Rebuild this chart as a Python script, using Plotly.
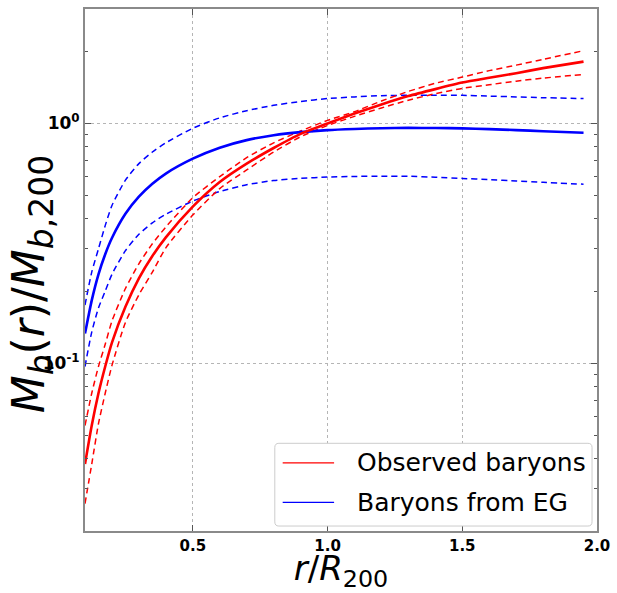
import plotly.graph_objects as go

# radius in units of R200
r = [0.1, 0.125, 0.15, 0.175, 0.2, 0.25, 0.3, 0.35, 0.4, 0.5, 0.6, 0.7,
     0.8, 0.9, 1.0, 1.1, 1.2, 1.3, 1.4, 1.5, 1.6, 1.7, 1.8, 1.95]

# Observed baryons (red)
obs_mid = [0.038, 0.055, 0.075, 0.097, 0.122, 0.172, 0.226, 0.28, 0.335, 0.45, 0.57, 0.68,
           0.79, 0.905, 1.0, 1.10, 1.20, 1.30, 1.39, 1.48, 1.55, 1.62, 1.70, 1.81]
obs_hi = [0.055, 0.075, 0.097, 0.12, 0.15, 0.205, 0.26, 0.315, 0.37, 0.49, 0.60, 0.72,
          0.83, 0.93, 1.03, 1.12, 1.24, 1.36, 1.47, 1.56, 1.66, 1.75, 1.85, 2.01]
obs_lo = [0.026, 0.038, 0.056, 0.075, 0.098, 0.148, 0.193, 0.24, 0.303, 0.415, 0.535, 0.64,
          0.76, 0.88, 0.98, 1.07, 1.16, 1.25, 1.33, 1.40, 1.45, 1.50, 1.545, 1.60]

# Baryons from Emergent Gravity (blue)
eg_mid = [0.133, 0.183, 0.235, 0.285, 0.333, 0.42, 0.495, 0.56, 0.618, 0.713, 0.792, 0.852,
          0.893, 0.92, 0.938, 0.948, 0.955, 0.958, 0.957, 0.954, 0.947, 0.938, 0.928, 0.915]
eg_hi = [0.175, 0.24, 0.30, 0.375, 0.455, 0.58, 0.68, 0.76, 0.83, 0.955, 1.055, 1.13,
         1.19, 1.235, 1.27, 1.29, 1.305, 1.31, 1.31, 1.31, 1.30, 1.29, 1.28, 1.27]
eg_lo = [0.097, 0.135, 0.17, 0.20, 0.235, 0.295, 0.345, 0.385, 0.418, 0.475, 0.52, 0.555,
         0.578, 0.59, 0.598, 0.601, 0.603, 0.602, 0.597, 0.59, 0.583, 0.576, 0.568, 0.558]

x_ticks = [0.5, 1.0, 1.5, 2.0]
x_ticktext = ["0.5", "1.0", "1.5", "2.0"]
y_ticks = [0.1, 1.0]
y_ticktext = ["10<sup>-1</sup>", "10<sup>0</sup>"]
y_minor = [0.03, 0.04, 0.05, 0.06, 0.07, 0.08, 0.09,
           0.2, 0.3, 0.4, 0.5, 0.6, 0.7, 0.8, 0.9, 2.0, 3.0]

legend_labels = ["Observed baryons", "Baryons from EG"]

RED = "#ff0000"
BLUE = "#0000ff"

fig = go.Figure()

def add(y, color, dash, width):
    fig.add_trace(go.Scatter(x=r, y=y, mode="lines", showlegend=False,
                             line=dict(color=color, dash=dash, width=width, shape="spline", smoothing=0.6),
                             hoverinfo="skip"))

dash_pat = "6px,4px"
add(eg_hi, BLUE, dash_pat, 1.5)
add(eg_lo, BLUE, dash_pat, 1.5)
add(obs_hi, RED, dash_pat, 1.5)
add(obs_lo, RED, dash_pat, 1.5)
add(eg_mid, BLUE, "solid", 2.6)
add(obs_mid, RED, "solid", 2.6)

axis_common = dict(
    showline=True, mirror="ticks", linecolor="#8a8a8a", linewidth=2,
    ticks="inside", ticklen=6, tickcolor="#555", tickwidth=1,
    showgrid=True, gridcolor="#b5b5b5", griddash="dot", gridwidth=1,
    zeroline=False,
)

fig.update_xaxes(
    range=[0.1, 2.0], tickvals=x_ticks, ticktext=x_ticktext,
    tickfont=dict(family="DejaVu Sans", size=15, color="black", weight="bold"),
    title=dict(text="<i>r</i>/<i>R</i><sub>200</sub>",
               font=dict(family="DejaVu Sans", size=34, color="black"), standoff=7),
    **axis_common,
)
fig.update_yaxes(
    type="log", range=[-1.699, 0.477], tickvals=y_ticks, ticktext=y_ticktext,
    tickfont=dict(family="DejaVu Sans", size=17, color="black", weight="bold"),
    minor=dict(tickvals=y_minor, ticks="inside", ticklen=3, tickcolor="#555", showgrid=False),
    **axis_common,
)

# y-axis title as a rotated annotation
sub = lambda t: "<sub><span style='font-size:33px'>" + t + "</span></sub>"
fig.add_annotation(xref="paper", yref="paper", x=-0.104, y=0.474,
                   xanchor="center", yanchor="middle", textangle=-90, showarrow=False,
                   text="<i>M</i>" + sub("<i>b</i>") + "(<i>r</i>)/<i>M</i>" + sub("<i>b</i>,200"),
                   font=dict(family="DejaVu Sans", size=44, color="black"))

# manual legend (box, line samples, labels) in paper coordinates
bx0, bx1, by0, by1 = 0.3707, 0.9903, 0.0095, 0.168
rx, ry = 0.008, 0.008
path = (f"M {bx0+rx},{by0} L {bx1-rx},{by0} Q {bx1},{by0} {bx1},{by0+ry} "
        f"L {bx1},{by1-ry} Q {bx1},{by1} {bx1-rx},{by1} L {bx0+rx},{by1} "
        f"Q {bx0},{by1} {bx0},{by1-ry} L {bx0},{by0+ry} Q {bx0},{by0} {bx0+rx},{by0} Z")
fig.add_shape(type="path", path=path, xref="paper", yref="paper",
              line=dict(color="#cccccc", width=1), fillcolor="white", layer="above")
for label, color, yy in zip(legend_labels, [RED, BLUE], [0.1304, 0.0548]):
    fig.add_shape(type="line", xref="paper", yref="paper", x0=0.3861, x1=0.4865, y0=yy, y1=yy,
                  line=dict(color=color, width=1.3), layer="above")
    fig.add_annotation(xref="paper", yref="paper", x=0.527, y=yy, xanchor="left", yanchor="middle",
                       text=label, showarrow=False,
                       font=dict(family="DejaVu Sans", size=25, color="black"))

fig.update_layout(
    width=617, height=593,
    margin=dict(l=85, r=14, t=7, b=57),
    paper_bgcolor="white", plot_bgcolor="white",
    showlegend=False,
)

fig.write_html("out.html")
